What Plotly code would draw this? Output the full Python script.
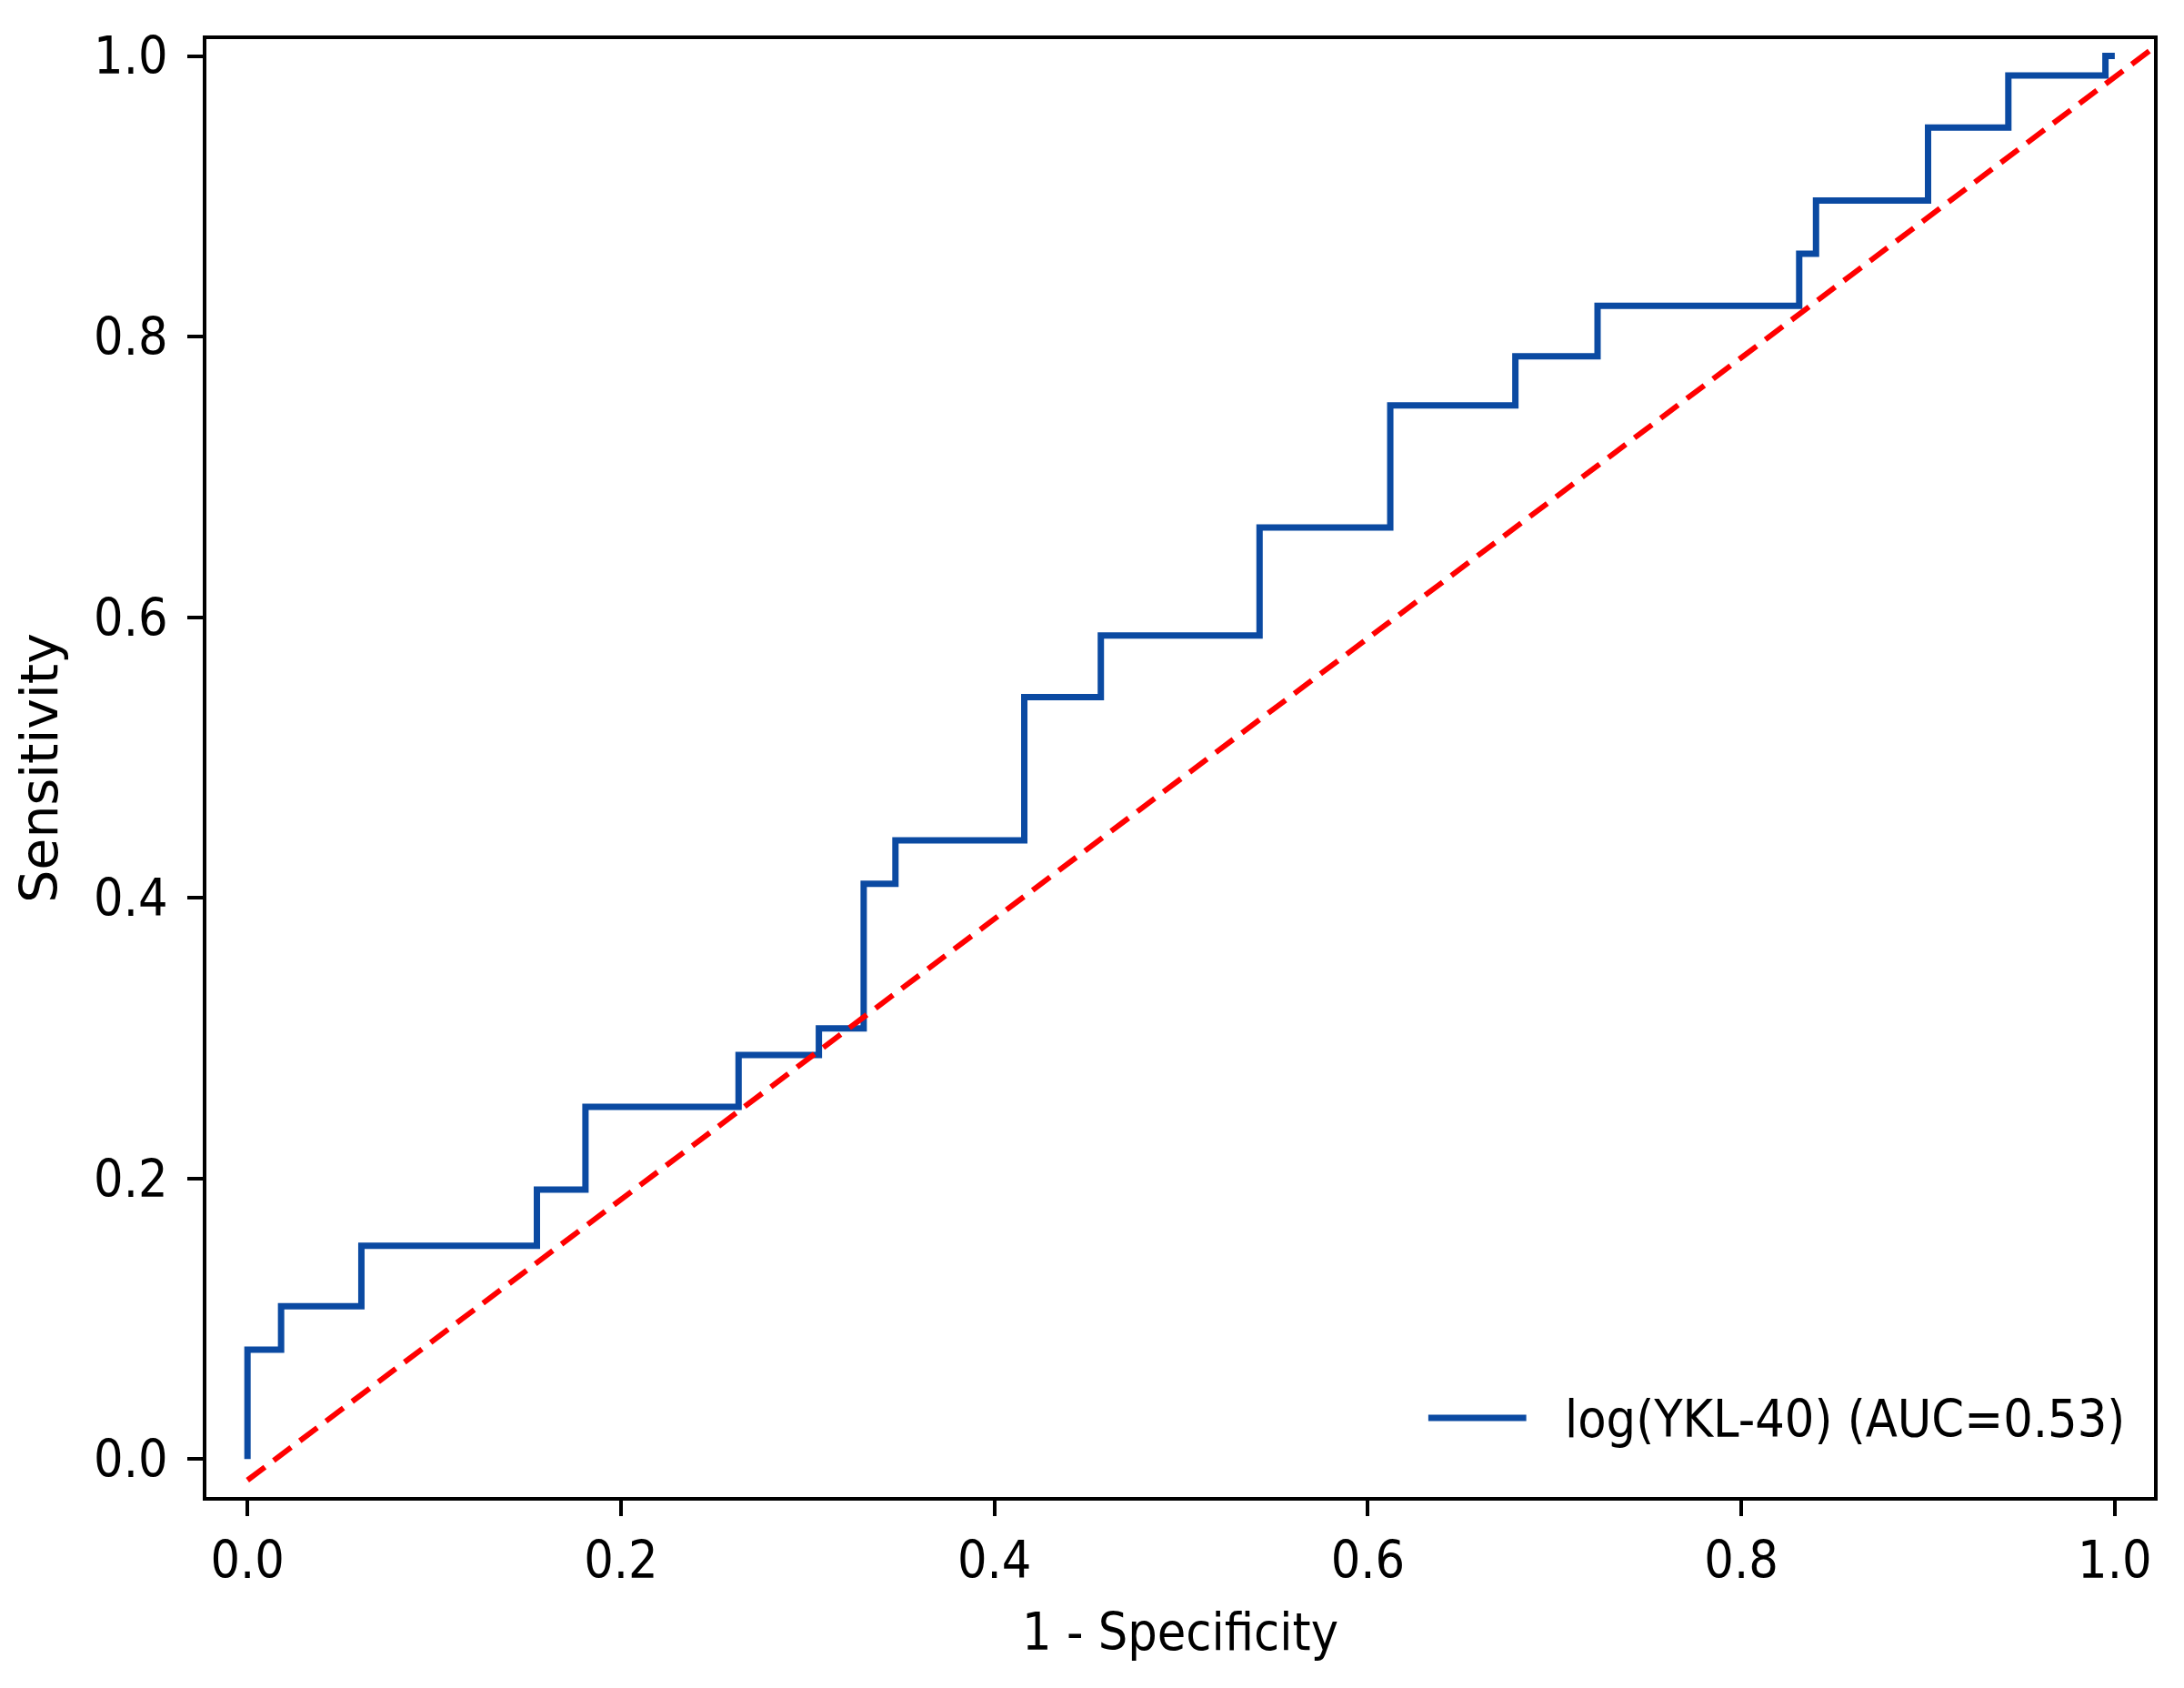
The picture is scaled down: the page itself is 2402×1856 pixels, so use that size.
import plotly.graph_objects as go

# ROC curve (step points, drawn with hv steps)
fpr = [0.0, 0.0, 0.018, 0.061, 0.155, 0.181, 0.263, 0.306, 0.330, 0.347, 0.416,
       0.457, 0.542, 0.612, 0.679, 0.723, 0.831, 0.840, 0.900, 0.943, 0.995, 1.0]
tpr = [0.0, 0.078, 0.109, 0.152, 0.192, 0.251, 0.288, 0.307, 0.410, 0.441, 0.543,
       0.587, 0.664, 0.751, 0.786, 0.822, 0.859, 0.897, 0.949, 0.986, 1.0, 1.0]

# chance line (as drawn, slightly offset below zero)
diag_x = [0.0, 1.04]
diag_y = [-0.015, 1.025]

ticks = [0.0, 0.2, 0.4, 0.6, 0.8, 1.0]
tick_text = ["0.0", "0.2", "0.4", "0.6", "0.8", "1.0"]

legend_label = "log(YKL-40) (AUC=0.53)"
blue = "#0b4aa2"
font = "DejaVu Sans Condensed, DejaVu Sans"

fig = go.Figure()

fig.add_trace(go.Scatter(
    x=fpr, y=tpr, mode="lines", line_shape="hv",
    line=dict(color=blue, width=7),
    name=legend_label, showlegend=False
))

fig.add_trace(go.Scatter(
    x=diag_x, y=diag_y, mode="lines",
    line=dict(color="#ff0000", width=6, dash="24px,12px"),
    showlegend=False
))

# legend drawn by hand so the sample line has the long matplotlib look
fig.add_shape(type="line", xref="paper", yref="paper",
              x0=0.6274, x1=0.6777, y0=0.0542, y1=0.0542,
              line=dict(color=blue, width=7))
fig.add_annotation(xref="paper", yref="paper", x=0.6967, y=0.0535,
                   xanchor="left", yanchor="middle", showarrow=False,
                   text=legend_label, font=dict(family=font, size=57, color="black"))

axis_style = dict(
    showline=True, linecolor="black", linewidth=4, mirror=True,
    ticks="outside", ticklen=17, tickwidth=3.5, tickcolor="black",
    showgrid=False, zeroline=False,
    tickvals=ticks, ticktext=tick_text,
    tickfont=dict(family=font, size=57, color="black"),
)

fig.update_xaxes(axis_style, range=[-0.022, 1.021],
                 title=dict(text="1 - Specificity", standoff=28,
                            font=dict(family=font, size=57, color="black")))
fig.update_yaxes(axis_style, range=[-0.027, 1.012], ticklabelstandoff=10,
                 title=dict(text="Sensitivity", standoff=22,
                            font=dict(family="DejaVu Sans", size=57, color="black")))

fig.update_layout(
    width=2402, height=1856,
    margin=dict(l=219, r=41, t=35, b=218),
    plot_bgcolor="white", paper_bgcolor="white",
    showlegend=False,
)

fig.write_html("out.html")
